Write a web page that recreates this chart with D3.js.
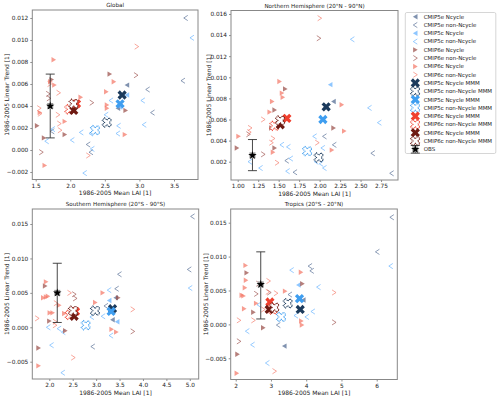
<!DOCTYPE html>
<html>
<head>
<meta charset="utf-8">
<script src="https://cdn.jsdelivr.net/npm/d3@7"></script>
<style>
  body { margin: 0; background: #fff; }
  text { font-family: "DejaVu Sans", sans-serif; fill: #222; }
</style>
</head>
<body>
<div id="chart"></div>
<script>
var width = 500, height = 398;

// legend entries, in plotting order
var legendLabels = [
  "CMIP5e Ncycle", "CMIP5e non-Ncycle", "CMIP5c Ncycle", "CMIP5c non-Ncycle",
  "CMIP6e Ncycle", "CMIP6e non-Ncycle", "CMIP6c Ncycle", "CMIP6c non-Ncycle",
  "CMIP5c Ncycle MMM", "CMIP5c non-Ncycle MMM", "CMIP5c Ncycle MMM", "CMIP5c non-Ncycle MMM",
  "CMIP6c Ncycle MMM", "CMIP6c non-Ncycle MMM", "CMIP6c Ncycle MMM", "CMIP6c non-Ncycle MMM",
  "OBS"
];
var groups = ["5e-N", "5e-n", "5c-N", "5c-n", "6e-N", "6e-n", "6c-N", "6c-n"];

var panelTitles = ["Global", "Northern Hemisphere (20°N - 90°N)",
                   "Southern Hemisphere (20°S - 90°S)", "Tropics (20°S - 20°N)"];

// tick values per panel
var globalXTicks = [1.5, 2.0, 2.5, 3.0, 3.5];
var globalYTicks = [-0.002, 0, 0.002, 0.004, 0.006, 0.008, 0.010, 0.012];
var nhXTicks = [1.0, 1.25, 1.5, 1.75, 2.0, 2.25, 2.5, 2.75];
var nhYTicks = [0.002, 0.004, 0.006, 0.008, 0.010, 0.012, 0.014, 0.016];
var shXTicks = [2.0, 2.5, 3.0, 3.5, 4.0, 4.5, 5.0];
var shYTicks = [-0.005, 0, 0.005, 0.010, 0.015];
var trXTicks = [2, 3, 4, 5, 6];
var trYTicks = [-0.005, 0, 0.005, 0.010, 0.015];

// individual models: [group, mean LAI, linear trend]
var globalPts = [
  ["5e-N",2.82,0.0059],["5e-N",2.69,0.0038],
  ["5e-n",3.67,0.0120],["5e-n",3.63,0.0063],["5e-n",3.12,0.0055],["5e-n",3.19,0.0034],["5e-n",2.26,0.0005],["5e-n",2.30,-0.0002],["5e-n",1.74,0.0017],
  ["5c-N",2.82,0.0050],["5c-N",2.72,0.0039],
  ["5c-n",3.76,0.0102],["5c-n",3.05,0.0045],["5c-n",3.07,0.0023],["5c-n",2.59,0.0045],["5c-n",2.52,0.0032],["5c-n",2.69,0.0015],["5c-n",1.75,0.0019],["5c-n",1.66,0.0008],["5c-n",2.03,0.0009],["5c-n",2.16,0.0016],["5c-n",2.30,0.0015],["5c-n",2.32,0.0001],["5c-n",2.21,-0.0021],["5c-n",2.70,0.0022],
  ["6e-N",2.57,0.0069],["6e-N",2.80,0.0036],["6e-N",1.73,0.0064],["6e-N",1.52,0.0022],["6e-N",1.92,0.0014],["6e-N",1.62,0.0011],
  ["6e-n",2.95,0.0068],["6e-n",2.31,0.0043],["6e-n",1.68,0.0051],["6e-n",1.69,0.0047],["6e-n",1.58,-0.0002],
  ["6c-N",1.76,0.0082],["6c-N",2.63,0.0062],["6c-N",1.71,0.0062],["6c-N",1.77,0.0059],["6c-N",2.52,0.0053],["6c-N",2.15,0.0048],["6c-N",2.79,0.0014],["6c-N",1.92,0.0026],["6c-N",1.63,-0.0014],["6c-N",1.56,0.0034],["6c-N",2.53,0.0041],["6c-N",2.53,0.0038],
  ["6c-n",1.70,0.0060],["6c-n",1.83,0.0052],["6c-n",1.55,0.0038],["6c-n",1.56,0.0033],["6c-n",1.84,0.0024],["6c-n",1.85,0.0018],["6c-n",2.26,-0.0005],["6c-n",2.96,0.0094],["6c-n",1.82,0.0032]
];
var nhPts = [
  ["5e-N",2.17,0.0077],
  ["5e-n",2.06,0.0044],["5e-n",2.18,0.0036],["5e-n",2.65,0.0028],["5e-n",1.70,0.0010],["5e-n",2.88,0.0009],["5e-n",1.60,0.0021],
  ["5c-N",2.13,0.0093],
  ["5c-n",2.40,0.0136],["5c-n",2.61,0.0071],["5c-n",2.73,0.0057],["5c-n",1.94,0.0044],["5c-n",1.54,0.0036],["5c-n",1.62,0.0034],["5c-n",2.04,0.0033],["5c-n",1.65,0.0023],["5c-n",1.96,0.0020],["5c-n",2.02,0.0018],["5c-n",1.28,0.0014],["5c-n",2.06,0.0014],["5c-n",1.61,0.0011],["5c-n",1.15,0.0020],
  ["6e-N",1.58,0.0089],["6e-N",1.45,0.0069],["6e-N",1.41,0.0052],["6e-N",2.17,0.0052],["6e-N",1.45,0.0033],["6e-N",0.99,0.0033],
  ["6e-n",1.99,0.0137],["6e-n",1.13,0.0046],["6e-n",1.31,0.0027],
  ["6c-N",1.51,0.0096],["6c-N",1.54,0.0085],["6c-N",1.55,0.0081],["6c-N",1.42,0.0077],["6c-N",1.39,0.0067],["6c-N",2.27,0.0074],["6c-N",2.30,0.0049],["6c-N",1.01,0.0044],["6c-N",1.43,0.0029],["6c-N",2.15,0.0031],
  ["6c-n",2.00,0.0156],["6c-n",1.31,0.0060],["6c-n",1.15,0.0052],["6c-n",1.14,0.0048],["6c-n",1.43,0.0042],["6c-n",1.41,0.0038],["6c-n",1.97,0.0038],["6c-n",1.48,0.0019]
];
var shPts = [
  ["5e-N",3.35,0.0011],["5e-N",3.42,0.0043],
  ["5e-n",3.50,0.0077],["5e-n",3.44,0.0056],["5e-n",3.21,0.0031],["5e-n",2.93,-0.0028],["5e-n",5.06,0.0161],["5e-n",4.99,0.0084],
  ["5c-N",3.28,0.0039],["5c-N",3.45,0.0008],
  ["5c-n",1.98,0.0000],["5c-n",2.21,-0.0002],["5c-n",2.30,-0.0007],["5c-n",2.05,-0.0026],["5c-n",3.28,0.0054],["5c-n",2.91,0.0015],["5c-n",3.15,0.0016],["5c-n",3.32,-0.0012],["5c-n",2.29,-0.0066],["5c-n",5.01,0.0057],
  ["6e-N",1.91,0.0060],["6e-N",2.00,0.0009],["6e-N",2.34,-0.0005],["6e-N",1.77,-0.0030],["6e-N",3.47,0.0043],
  ["6e-n",2.53,0.0048],["6e-n",2.55,0.0042],["6e-n",3.78,-0.0006],
  ["6c-N",1.93,0.0066],["6c-N",1.87,0.0043],["6c-N",1.93,0.0044],["6c-N",1.97,0.0045],["6c-N",2.01,0.0021],["6c-N",2.07,0.0021],["6c-N",2.32,0.0020],["6c-N",2.98,0.0036],["6c-N",3.14,0.0050],["6c-N",3.33,-0.0003],["6c-N",3.43,-0.0007],["6c-N",1.77,-0.0056],["6c-N",2.21,0.0032],
  ["6c-n",2.43,0.0050],["6c-n",2.14,0.0035],["6c-n",1.74,0.0013],["6c-n",2.12,0.0003],["6c-n",2.51,-0.0044],["6c-n",3.78,0.0026],["6c-n",2.12,0.0008]
];
var trPts = [
  ["5e-N",3.92,0.0036],["5e-N",3.38,-0.0032],
  ["5e-n",6.43,0.0158],["5e-n",6.02,0.0107],["5e-n",4.11,0.0086],["5e-n",4.16,0.0079],["5e-n",3.54,0.0044],["5e-n",3.21,-0.0001],
  ["5c-N",3.78,0.0058],
  ["5c-n",6.40,0.0086],["5c-n",3.59,0.0080],["5c-n",4.35,0.0055],["5c-n",2.33,-0.0010],["5c-n",2.48,-0.0030],["5c-n",2.66,0.0029],["5c-n",4.19,0.0019],["5c-n",4.02,0.0011],["5c-n",3.71,0.0013],["5c-n",2.90,-0.0057],
  ["6e-N",2.31,0.0076],["6e-N",2.05,-0.0044],["6e-N",2.50,0.0018],["6e-N",2.78,-0.0005],["6e-N",3.89,0.0060],
  ["6e-n",2.64,0.0060],["6e-n",2.58,0.0045],["6e-n",2.95,0.0047],["6e-n",2.09,-0.0025],["6e-n",4.79,0.0003],
  ["6c-N",2.28,0.0087],["6c-N",2.29,0.0065],["6c-N",2.26,0.0054],["6c-N",2.17,0.0043],["6c-N",2.22,0.0042],["6c-N",2.24,0.0023],["6c-N",2.58,0.0031],["6c-N",3.40,0.0049],["6c-N",3.85,0.0077],["6c-N",3.86,0.0005],["6c-N",3.88,-0.0001],["6c-N",2.03,-0.0072],
  ["6c-n",2.09,0.0006],["6c-n",2.93,0.0064],["6c-n",2.91,0.0048],["6c-n",3.14,0.0046],["6c-n",2.50,0.0006],["6c-n",2.78,0.0022],["6c-n",3.10,-0.0069],["6c-n",4.79,0.0047]
];

// multi-model means, legend order (8 entries): [mean LAI, trend]
var globalMMM = [[2.75,0.0050],[2.53,0.0025],[2.72,0.0042],[2.36,0.0018],[2.09,0.0042],[1.99,0.0037],[2.05,0.0036],[2.05,0.0042]];
var nhMMM = [[2.08,0.0072],[1.99,0.0024],[2.04,0.0060],[1.85,0.0030],[1.60,0.0061],[1.45,0.0054],[1.52,0.0055],[1.52,0.0059]];
var shMMM = [[3.35,0.0027],[2.98,0.0024],[3.32,0.0023],[2.78,0.0003],[2.56,0.0023],[2.44,0.0018],[2.53,0.0016],[2.51,0.0024]];
var trMMM = [[3.83,0.0022],[3.48,0.0031],[3.81,0.0038],[3.29,0.0011],[2.97,0.0033],[3.05,0.0022],[2.95,0.0022],[3.10,0.0025]];

// observations: [mean LAI, trend, lower, upper]
var globalObs = [1.71, 0.0040, 0.0011, 0.0069];
var nhObs = [1.18, 0.0026, 0.00115, 0.0041];
var shObs = [2.17, 0.0050, 0.0007, 0.0093];
var trObs = [2.71, 0.0059, 0.0008, 0.0107];

// colours
var groupColor = { "5e": "#4f6890", "5c": "#62b0ff", "6e": "#9a4e48", "6c": "#f47766" };
var mmmColor = ["#1b3a5c", "#1b3a5c", "#3f9ef0", "#3f9ef0", "#f0402e", "#f0402e", "#6e1a12", "#6e1a12"];

// panel layout
var panels = [
  { pts: globalPts, mmm: globalMMM, obs: globalObs, xt: globalXTicks, yt: globalYTicks, xf: ".1f",
    x0: 32.3, x1: 198, y0: 10, y1: 179.5, xd: [1.4508, 3.847], yd: [-0.002682, 0.012727], yl: 25 },
  { pts: nhPts, mmm: nhMMM, obs: nhObs, xt: nhXTicks, yt: nhYTicks, xf: ".2f",
    x0: 231, x1: 398, y0: 10.5, y1: 180, xd: [0.918, 2.957], yd: [0.000265, 0.01633], yl: 22 },
  { pts: shPts, mmm: shMMM, obs: shObs, xt: shXTicks, yt: shYTicks, xf: ".1f",
    x0: 32.3, x1: 198.7, y0: 209, y1: 379, xd: [1.637, 5.19], yd: [-0.00751, 0.01718], yl: 25 },
  { pts: trPts, mmm: trMMM, obs: trObs, xt: trXTicks, yt: trYTicks, xf: "d",
    x0: 230.7, x1: 397.3, y0: 209, y1: 379.5, xd: [1.858, 6.584], yd: [-0.00813, 0.01702], yl: 25 }
];

var svg = d3.select("#chart").append("svg")
    .attr("width", width)
    .attr("height", height);

// marker drawing
var triL = "M-2.4,0L2.2,-2.7L2.2,2.7Z";
var triR = "M2.4,0L-2.2,-2.7L-2.2,2.7Z";
var chevL = "M2,-2.6L-2,0L2,2.6";
var chevR = "M-2,-2.6L2,0L-2,2.6";
var xMark = d3.symbol().type(d3.symbolCross).size(54)();

function drawModel(g, grp, x, y) {
  var c = groupColor[grp.slice(0, 2)];
  var cycle = grp[3] === "N";
  var left = grp[0] === "5";
  var p = g.append("path")
      .attr("transform", "translate(" + x + "," + y + ")")
      .attr("opacity", 0.72);
  if (cycle) {
    p.attr("d", left ? triL : triR).attr("fill", c);
  } else {
    p.attr("d", left ? chevL : chevR).attr("fill", "none")
     .attr("stroke", c).attr("stroke-width", 0.9);
  }
}

function drawMMM(g, i, x, y) {
  var p = g.append("path")
      .attr("d", xMark)
      .attr("transform", "translate(" + x + "," + y + ") rotate(45)");
  if (i % 2 === 0) {
    p.attr("fill", mmmColor[i]);
  } else {
    p.attr("fill", "#fff").attr("stroke", mmmColor[i])
     .attr("stroke-width", 1.1).attr("stroke-dasharray", "1,0.7");
  }
}

function drawObs(g, x, y, ylo, yhi) {
  g.append("line").attr("x1", x).attr("x2", x).attr("y1", ylo).attr("y2", yhi)
    .attr("stroke", "#333").attr("stroke-width", 0.9);
  [ylo, yhi].forEach(function(v) {
    g.append("line").attr("x1", x - 4.5).attr("x2", x + 4.5).attr("y1", v).attr("y2", v)
      .attr("stroke", "#333").attr("stroke-width", 0.9);
  });
  g.append("rect").attr("x", x - 3).attr("y", y - 3).attr("width", 6).attr("height", 6)
    .attr("fill", "#999");
  g.append("path").attr("d", d3.symbol().type(d3.symbolStar).size(22)())
    .attr("transform", "translate(" + x + "," + y + ")")
    .attr("fill", "#000");
}

panels.forEach(function(P, k) {
  var x = d3.scaleLinear().domain(P.xd).range([P.x0, P.x1]);
  var y = d3.scaleLinear().domain(P.yd).range([P.y1, P.y0]);
  var g = svg.append("g");

  // axes
  var xa = g.append("g").attr("transform", "translate(0," + P.y1 + ")")
      .call(d3.axisBottom(x).tickValues(P.xt).tickSize(2).tickPadding(2).tickFormat(d3.format(P.xf)));
  var ya = g.append("g").attr("transform", "translate(" + P.x0 + ",0)")
      .call(d3.axisLeft(y).tickValues(P.yt).tickSize(2).tickPadding(2).tickFormat(d3.format(".3f")));
  [xa, ya].forEach(function(a) {
    a.select(".domain").remove();
    a.selectAll("line").attr("stroke", "#444").attr("stroke-width", 0.6);
    a.selectAll("text").attr("font-size", 5.8).attr("font-family", "DejaVu Sans").attr("fill", "#222");
  });

  var clip = "clip" + k;
  g.append("clipPath").attr("id", clip).append("rect")
    .attr("x", P.x0).attr("y", P.y0).attr("width", P.x1 - P.x0).attr("height", P.y1 - P.y0);
  var plot = g.append("g").attr("clip-path", "url(#" + clip + ")");

  P.pts.forEach(function(d) { drawModel(plot, d[0], x(d[1]), y(d[2])); });
  P.mmm.forEach(function(d, i) { drawMMM(plot, i, x(d[0]), y(d[1])); });
  drawObs(plot, x(P.obs[0]), y(P.obs[1]), y(P.obs[2]), y(P.obs[3]));

  g.append("rect")
    .attr("x", P.x0).attr("y", P.y0).attr("width", P.x1 - P.x0).attr("height", P.y1 - P.y0)
    .attr("fill", "none").attr("stroke", "#888").attr("stroke-width", 1);

  g.append("text")
    .attr("x", (P.x0 + P.x1) / 2).attr("y", P.y0 - 3)
    .attr("text-anchor", "middle").attr("font-size", 5.6)
    .text(panelTitles[k]);
  g.append("text")
    .attr("x", (P.x0 + P.x1) / 2).attr("y", P.y1 + 15.5)
    .attr("text-anchor", "middle").attr("font-size", 6)
    .text("1986-2005 Mean LAI [1]");
  g.append("text")
    .attr("transform", "translate(" + (P.x0 - P.yl) + "," + ((P.y0 + P.y1) / 2) + ") rotate(-90)")
    .attr("text-anchor", "middle").attr("dy", "0.35em").attr("font-size", 6)
    .text("1986-2005 Linear Trend [1]");
});

// legend
var lg = svg.append("g");
lg.append("rect")
  .attr("x", 405.3).attr("y", 12.5).attr("width", 90.5).attr("height", 141)
  .attr("rx", 1.5).attr("fill", "#fff").attr("stroke", "#ccc").attr("stroke-width", 0.8);
var ly = d3.scaleLinear().domain([0, legendLabels.length - 1]).range([16.7, 149.3]);
legendLabels.forEach(function(lab, i) {
  var yy = ly(i);
  if (i < 8) drawModel(lg, groups[i], 415.3, yy);
  else if (i < 16) drawMMM(lg, i - 8, 415.3, yy);
  else drawObs(lg, 415.3, yy, yy + 3.8, yy - 3.8);
  lg.append("text").attr("x", 423.7).attr("y", yy).attr("dy", "0.35em")
    .attr("font-size", 5.5).text(lab);
});
</script>
</body>
</html>
